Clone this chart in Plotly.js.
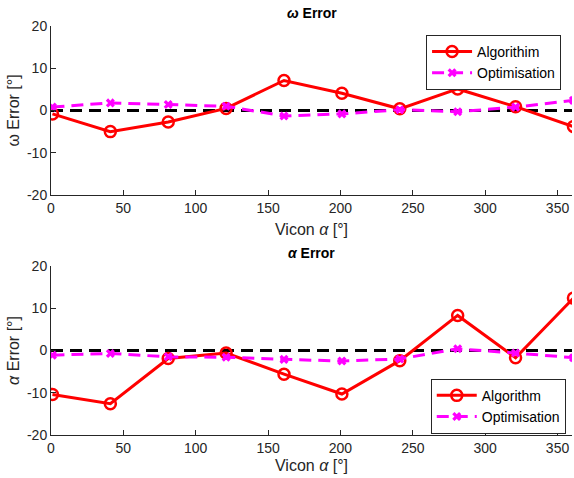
<!DOCTYPE html>
<html>
<head>
<meta charset="utf-8">
<script src="https://cdn.plot.ly/plotly-3.0.1.min.js"></script>
<style>html,body{margin:0;padding:0;background:#fff;}#chart{width:574px;height:478px;}</style>
</head>
<body>
<div id="chart"></div>
<script>
// x positions (Vicon alpha, degrees)
const viconAlpha = [1, 41, 81, 121, 161, 201, 241, 281, 321, 361];
// omega error
const omegaAlgorithm = [-0.8, -5.0, -2.7, 0.5, 7.1, 4.1, 0.4, 5.1, 0.9, -3.8];
const omegaOptimisation = [0.8, 1.8, 1.4, 1.0, -1.3, -0.8, 0.2, -0.3, 0.8, 2.4];
// alpha error
const alphaAlgorithm = [-10.4, -12.6, -1.9, -0.6, -5.6, -10.3, -2.4, 8.3, -1.7, 12.4];
const alphaOptimisation = [-1.1, -0.7, -1.5, -1.6, -2.1, -2.5, -2.0, 0.4, -0.6, -1.7];
const zeroRef = [0, 0];
const labelsTop = ['Algorithim', 'Optimisation'];
const labelsBottom = ['Algorithm', 'Optimisation'];
const yTickVals = [-20, -10, 0, 10, 20];
const yTickText = ['-20', '-10', '0', '10', '20'];
const xTickVals = [0, 50, 100, 150, 200, 250, 300, 350];
const xTickText = ['0', '50', '100', '150', '200', '250', '300', '350'];

const RED = '#ff0000', MAG = '#ff00ff';
const dashPat = '12px,7px';
const font = 'Liberation Sans, Arial, sans-serif';

function algTrace(y, name, xa, ya, leg) {
  return {x: viconAlpha, y: y, name: name, xaxis: xa, yaxis: ya, legend: leg,
    mode: 'lines+markers', line: {color: RED, width: 3},
    marker: {symbol: 'circle-open', size: 11, color: RED, line: {width: 2.5, color: RED}}};
}
function optTrace(y, name, xa, ya, leg) {
  return {x: viconAlpha, y: y, name: name, xaxis: xa, yaxis: ya, legend: leg,
    mode: 'lines+markers', line: {color: MAG, width: 3, dash: dashPat},
    marker: {symbol: 'x', size: 8, color: MAG}};
}
function zeroTrace(xa, ya) {
  return {x: [0, 360], y: zeroRef, xaxis: xa, yaxis: ya, showlegend: false,
    mode: 'lines', line: {color: '#000', width: 3, dash: dashPat}, hoverinfo: 'skip'};
}

const data = [
  zeroTrace('x', 'y'),
  algTrace(omegaAlgorithm, labelsTop[0], 'x', 'y', 'legend'),
  optTrace(omegaOptimisation, labelsTop[1], 'x', 'y', 'legend'),
  zeroTrace('x2', 'y2'),
  algTrace(alphaAlgorithm, labelsBottom[0], 'x2', 'y2', 'legend2'),
  optTrace(alphaOptimisation, labelsBottom[1], 'x2', 'y2', 'legend2')
];

const axisCommon = {
  showline: true, linecolor: '#262626', linewidth: 1, mirror: false,
  ticks: 'inside', ticklen: 5, tickcolor: '#262626', tickwidth: 1,
  showgrid: false, zeroline: false,
  tickfont: {family: font, size: 14, color: '#262626'}
};
function xAx(anchor, standoff) {
  return Object.assign({}, axisCommon, {anchor: anchor, range: [0, 360],
    tickmode: 'array', tickvals: xTickVals, ticktext: xTickText,
    title: {text: 'Vicon <i>α</i> [°]', font: {family: font, size: 16, color: '#262626'}, standoff: standoff}});
}
function yAx(anchor, domain, label) {
  return Object.assign({}, axisCommon, {anchor: anchor, domain: domain, range: [-20, 20],
    tickmode: 'array', tickvals: yTickVals, ticktext: yTickText,
    title: {text: label, font: {family: font, size: 16, color: '#262626'}, standoff: 3}});
}

const legendCommon = {
  bgcolor: '#ffffff', bordercolor: '#262626', borderwidth: 1,
  font: {family: font, size: 14, color: '#000'}, tracegroupgap: 0, itemwidth: 40
};

const layout = {
  width: 574, height: 478,
  margin: {l: 51, r: 2, t: 26, b: 43},
  paper_bgcolor: '#fff', plot_bgcolor: '#fff',
  showlegend: true,
  xaxis: xAx('y', 9),
  yaxis: yAx('x', [0.5868, 1], 'ω Error [°]'),
  xaxis2: xAx('y2', 5),
  yaxis2: yAx('x2', [0, 0.4132], '<i>α</i> Error [°]'),
  legend: Object.assign({}, legendCommon, {x: 0.979, xanchor: 'right', y: 0.978, yanchor: 'top'}),
  legend2: Object.assign({}, legendCommon, {x: 0.988, xanchor: 'right', y: 0.003, yanchor: 'bottom'}),
  annotations: [
    {text: '<b><i>ω</i> Error</b>', xref: 'paper', yref: 'paper', x: 0.5, y: 1, yanchor: 'bottom', yshift: 3,
      showarrow: false, font: {family: font, size: 14, color: '#000'}},
    {text: '<b><i>α</i> Error</b>', xref: 'paper', yref: 'paper', x: 0.5, y: 0.4132, yanchor: 'bottom', yshift: 3,
      showarrow: false, font: {family: font, size: 14, color: '#000'}}
  ]
};

Plotly.newPlot('chart', data, layout, {displayModeBar: false, staticPlot: true});
</script>
</body>
</html>
